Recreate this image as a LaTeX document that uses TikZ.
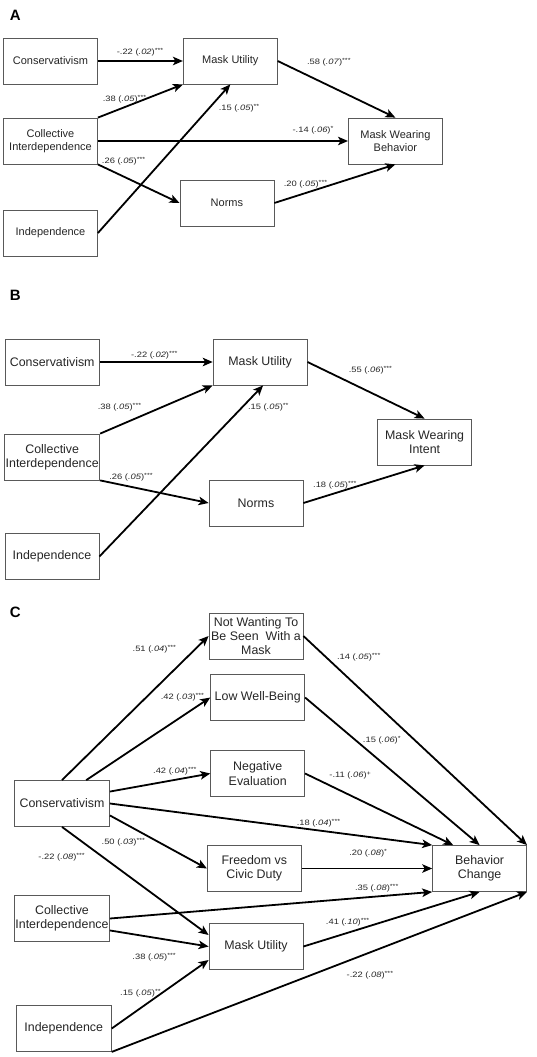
\documentclass[tikz,border=0pt]{standalone}
\usepackage{fontspec}
\setmainfont{Liberation Sans}
\newfontfamily\labfont[FakeStretch=1.2]{Liberation Sans}
\usetikzlibrary{arrows.meta,calc}
\newcommand{\coef}[3]{#1 (\textit{#2})\raisebox{0.35ex}{\fontsize{6}{6}\selectfont #3}}
\tikzset{
  box/.style={draw=black!65, line width=0.8pt, fill=white, minimum width=94pt, minimum height=46pt, inner sep=1pt, align=center, text=black!85},
  boxA/.style={box, font=\fontsize{11}{12.5}\selectfont},
  boxB/.style={box, font=\fontsize{12.4}{14.3}\selectfont},
  arr/.style={-{Stealth[length=10pt,width=8.5pt,inset=2.5pt]}, line width=1.8pt, black},
  lab/.style={font=\labfont\fontsize{7.8}{8}\selectfont, text=black!85, inner sep=0pt},
  panel/.style={font=\bfseries\fontsize{15}{15}\selectfont, inner sep=0pt},
}
\begin{document}
\begin{tikzpicture}[x=1pt,y=-1pt]
\useasboundingbox[fill=white] (0,0) rectangle (536,1057);

% ---------------- Panel A ----------------
\node[panel] (pA) at (15.4,15) {A};
\node[boxA] (consA) at (50.5,61) {Conservativism};
\node[boxA] (muA) at (230.3,61) {Mask Utility};
\node[boxA] (ciA) at (50.5,141) {Collective\\Interdependence};
\node[boxA] (mwbA) at (395.4,141) {Mask Wearing\\Behavior};
\node[boxA] (normsA) at (226.9,203) {Norms};
\node[boxA] (indA) at (50.5,233) {Independence};

\draw[arr] (consA.east) -- (muA.west);
\draw[arr] (ciA.north east) -- (muA.south west);
\draw[arr] (indA.east) -- (muA.south);
\draw[arr] (ciA.east) -- (mwbA.west);
\draw[arr] (ciA.south east) -- (normsA.west);
\draw[arr] (muA.east) -- (mwbA.north);
\draw[arr] (normsA.east) -- (mwbA.south);

\node[lab] (lA1) at (140,52) {\coef{-.22}{.02}{***}};
\node[lab] (lA2) at (124.5,99) {\coef{.38}{.05}{***}};
\node[lab] (lA3) at (239,108) {\coef{.15}{.05}{**}};
\node[lab] (lA4) at (313,130) {\coef{-.14}{.06}{*}};
\node[lab] (lA5) at (123.6,161) {\coef{.26}{.05}{***}};
\node[lab] (lA6) at (328.8,62) {\coef{.58}{.07}{***}};
\node[lab] (lA7) at (305.5,184) {\coef{.20}{.05}{***}};

% ---------------- Panel B ----------------
\node[panel] (pB) at (15.4,295) {B};
\node[boxB] (consB) at (52.2,362) {Conservativism};
\node[boxB] (muB) at (260.1,362) {Mask Utility};
\node[boxB] (ciB) at (52.2,457) {Collective\\Interdependence};
\node[boxB] (mwiB) at (424.6,442) {Mask Wearing\\Intent};
\node[boxB] (normsB) at (256,503) {Norms};
\node[boxB] (indB) at (52,556.5) {Independence};

\draw[arr] (consB.east) -- (muB.west);
\draw[arr] (ciB.north east) -- (muB.south west);
\draw[arr] (indB.east) -- ([xshift=3pt]muB.south);
\draw[arr] (ciB.south east) -- (normsB.west);
\draw[arr] (muB.east) -- (mwiB.north);
\draw[arr] (normsB.east) -- (mwiB.south);

\node[lab] (lB1) at (154.3,355) {\coef{-.22}{.02}{***}};
\node[lab] (lB2) at (119.5,407) {\coef{.38}{.05}{***}};
\node[lab] (lB3) at (268.3,407) {\coef{.15}{.05}{**}};
\node[lab] (lB4) at (131,477) {\coef{.26}{.05}{***}};
\node[lab] (lB5) at (370.4,370) {\coef{.55}{.06}{***}};
\node[lab] (lB6) at (334.8,485) {\coef{.18}{.05}{***}};

% ---------------- Panel C ----------------
\node[panel] (pC) at (15.4,612) {C};
\node[boxB] (nwC) at (256,636) {Not Wanting To\\Be Seen\ \ With a\\Mask};
\node[boxB] (lwbC) at (257.7,697.5) {Low Well-Being};
\node[boxB] (neC) at (257.7,773.5) {Negative\\Evaluation};
\node[boxB, minimum width=95pt] (consC) at (62,803.5) {Conservativism};
\node[boxB] (frC) at (254.3,868.5) {Freedom vs\\Civic Duty};
\node[boxB] (bcC) at (479.6,868.5) {Behavior\\Change};
\node[boxB, minimum width=95pt] (ciC) at (62,918.5) {Collective\\Interdependence};
\node[boxB] (muC) at (256,946.5) {Mask Utility};
\node[boxB, minimum width=95pt] (indC) at (63.8,1028.5) {Independence};

\draw[arr] (consC.north) -- (nwC.west);
\draw[arr] (consC.44) -- (lwbC.west);
\draw[arr] (consC.14) -- (neC.west);
\draw[arr] (consC.east) -- (bcC.north west);
\draw[arr] (consC.-14) -- (frC.west);
\draw[arr] (consC.south) -- ([yshift=11.5pt]muC.west);
\draw[arr] (nwC.east) -- (bcC.north east);
\draw[arr] (lwbC.east) -- (bcC.north);
\draw[arr] (neC.east) -- ([xshift=21pt]bcC.north west);
\draw[arr] (frC.east) -- (bcC.west);
\draw[arr] (ciC.east) -- (bcC.south west);
\draw[arr] (ciC.-14) -- (muC.west);
\draw[arr] (indC.east) -- ([yshift=-13.5pt]muC.west);
\draw[arr] (muC.east) -- (bcC.south);
\draw[arr] (indC.south east) -- (bcC.south east);

\node[lab] (lC1) at (154.3,649) {\coef{.51}{.04}{***}};
\node[lab] (lC2) at (182.4,697) {\coef{.42}{.03}{***}};
\node[lab] (lC3) at (174.8,771) {\coef{.42}{.04}{***}};
\node[lab] (lC4) at (358.7,657) {\coef{.14}{.05}{***}};
\node[lab] (lC5) at (381.8,740) {\coef{.15}{.06}{*}};
\node[lab] (lC6) at (350.2,775) {\coef{-.11}{.06}{+}};
\node[lab] (lC7) at (318.5,823) {\coef{.18}{.04}{***}};
\node[lab] (lC8) at (123.3,842) {\coef{.50}{.03}{***}};
\node[lab] (lC9) at (61.6,857) {\coef{-.22}{.08}{***}};
\node[lab] (lC10) at (368.2,853) {\coef{.20}{.08}{*}};
\node[lab] (lC11) at (376.7,888) {\coef{.35}{.08}{***}};
\node[lab] (lC12) at (347.6,922) {\coef{.41}{.10}{***}};
\node[lab] (lC13) at (154.1,957) {\coef{.38}{.05}{***}};
\node[lab] (lC14) at (140.4,993) {\coef{.15}{.05}{**}};
\node[lab] (lC15) at (369.9,975) {\coef{-.22}{.08}{***}};
\end{tikzpicture}
\end{document}
